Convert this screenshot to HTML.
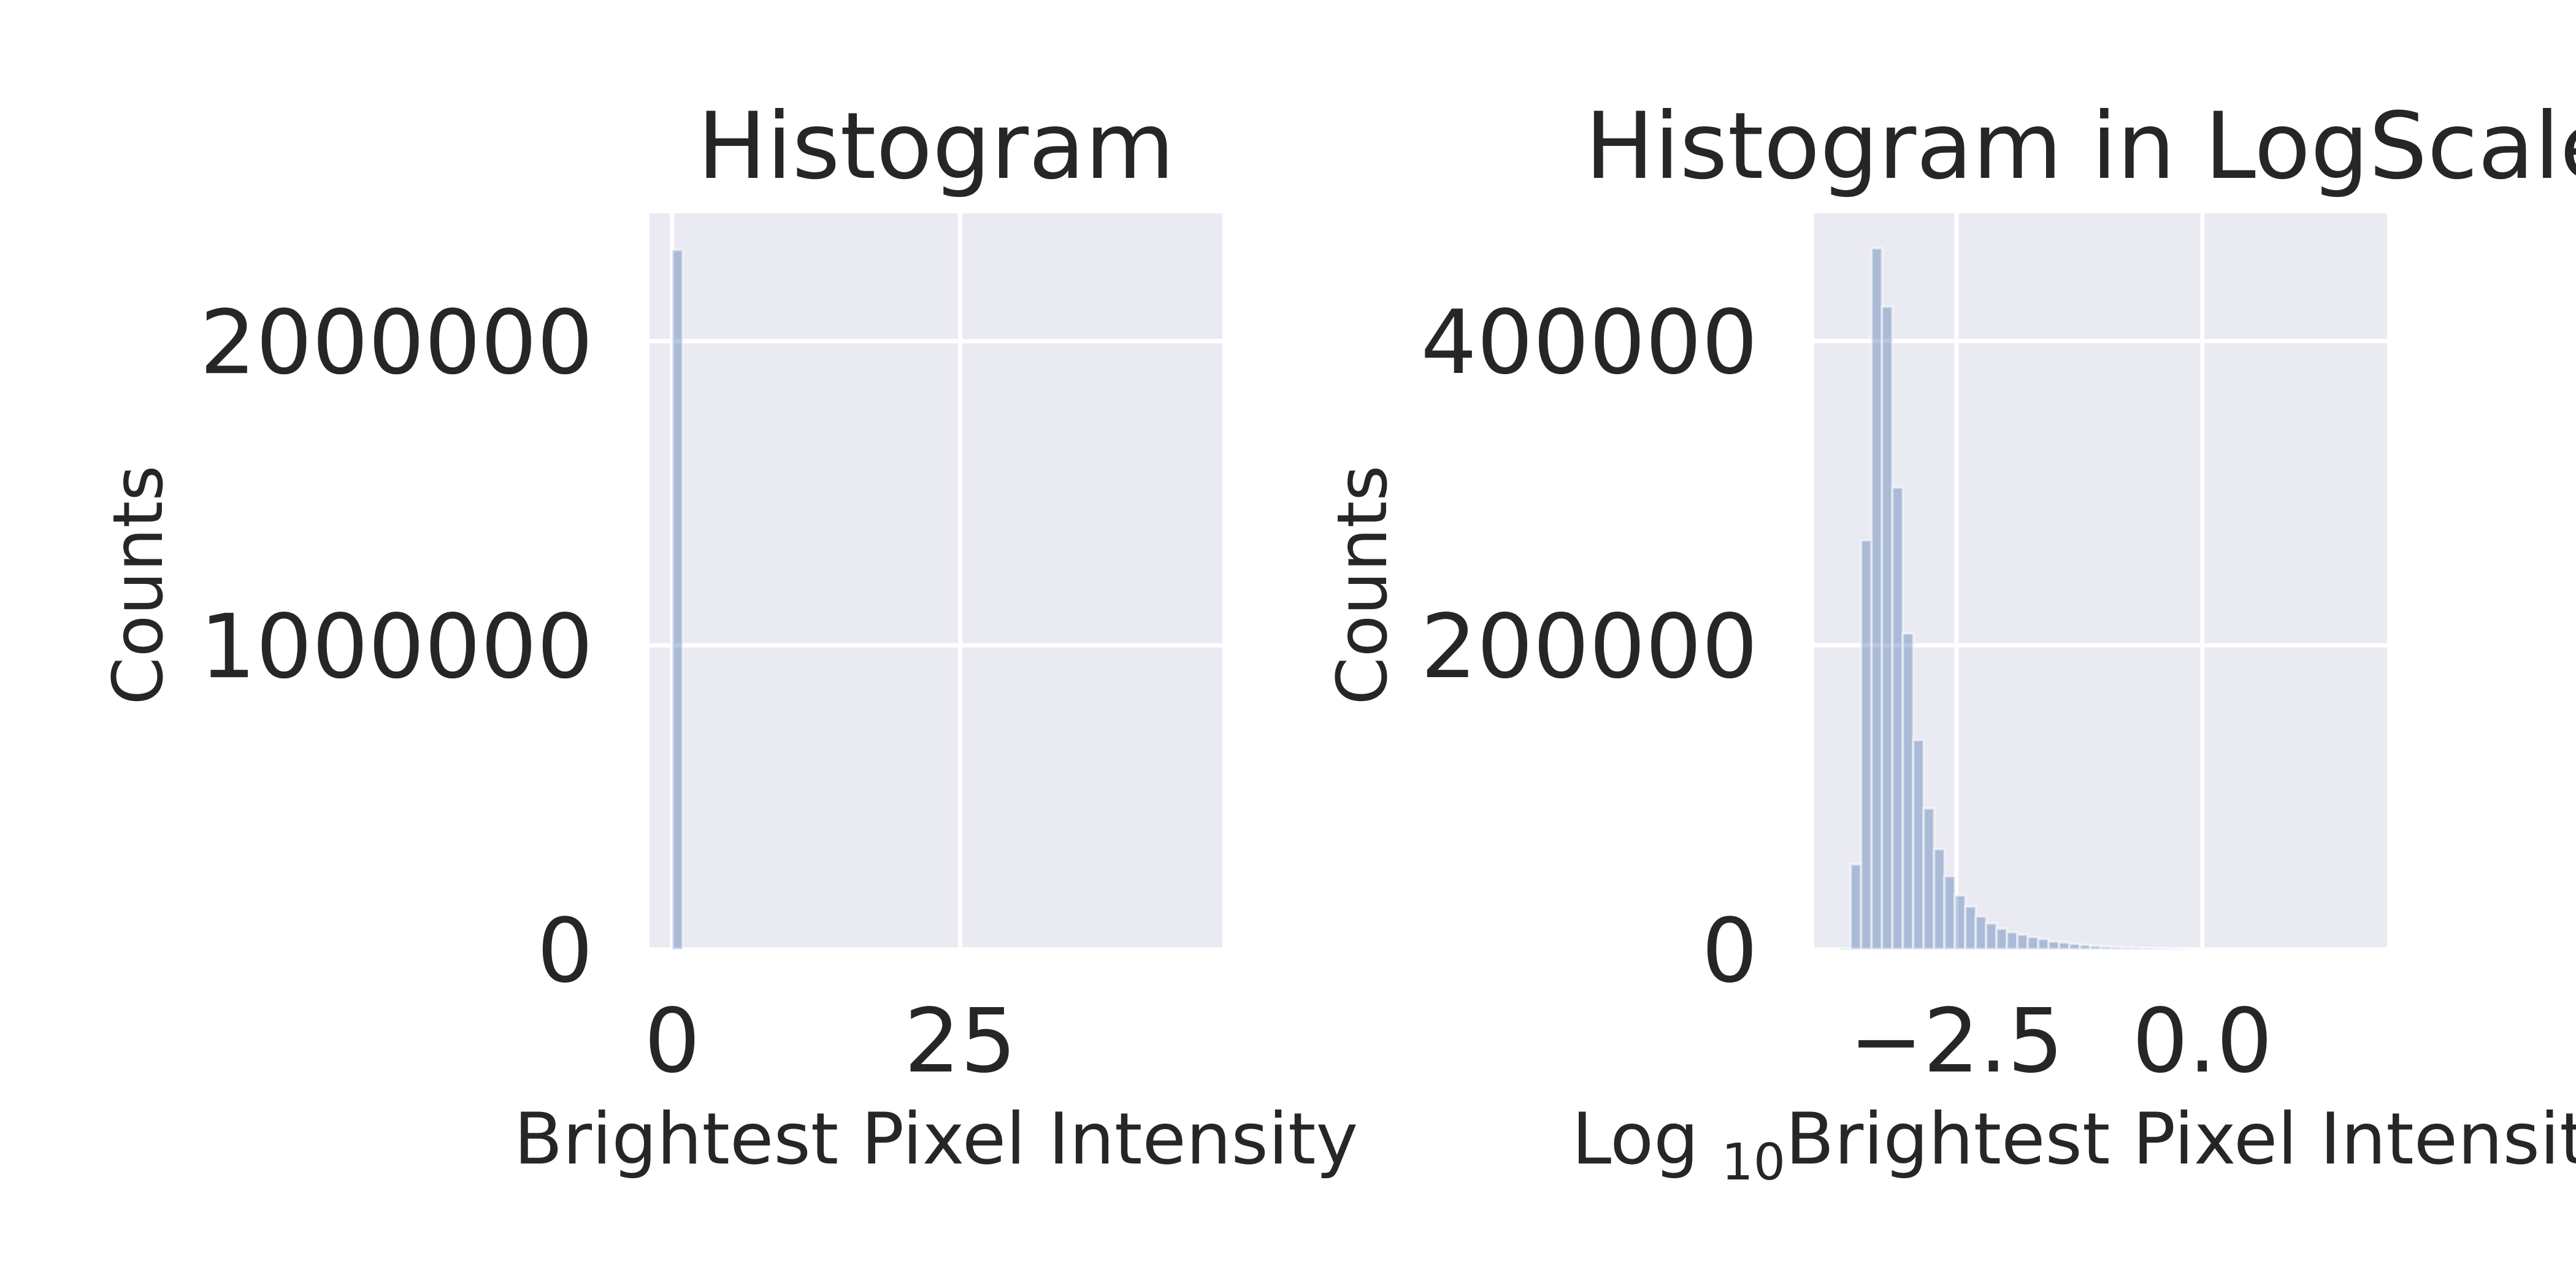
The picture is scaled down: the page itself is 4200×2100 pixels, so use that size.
<!DOCTYPE html>
<html><head><meta charset="utf-8"><style>
html,body{margin:0;padding:0;background:#fff;}
svg{display:block;font-family:"DejaVu Sans","Liberation Sans",sans-serif;fill:#262626;}
</style></head><body>
<svg id="chart" width="4200" height="2100" viewBox="0 0 4200 2100" xmlns="http://www.w3.org/2000/svg"></svg>
<script>
// Left histogram data
const leftBinStart = 0;
const leftBinEnd = 45.2;
const leftCounts = [2300000,0,0,0,0,0,0,0,0,0,0,0,0,0,0,0,0,0,0,0,0,0,0,0,0,0,0,0,0,0,0,0,0,0,0,0,0,0,0,0,0,0,0,0,0,0,0,0,0,0];
const leftXTicks = [0, 25];
const leftXTickLabels = ["0", "25"];
const leftYTicks = [0, 1000000, 2000000];
const leftYTickLabels = ["0", "1000000", "2000000"];
// Right histogram data (log10)
const rightBinStart = -3.68;
const rightBinEnd = 1.614;
const rightCounts = [600,55900,269000,461000,422600,303700,207700,137600,92700,65900,48100,35500,28100,21600,17100,13600,11300,9700,8100,6800,5200,4500,3600,2900,2300,1800,1500,1200,1000,800,600,400,300,200,150,100,80,60,40,30,20,10,0,0,0,0,0,0,0,0];
const rightXTicks = [-2.5, 0.0];
const rightXTickLabels = ["\u22122.5", "0.0"];
const rightYTicks = [0, 200000, 400000];
const rightYTickLabels = ["0", "200000", "400000"];

const NS = "http://www.w3.org/2000/svg";
const svg = document.getElementById("chart");
function mk(tag, attrs, parent) {
  const e = document.createElementNS(NS, tag);
  for (const k in attrs) e.setAttribute(k, attrs[k]);
  (parent || svg).appendChild(e);
  return e;
}
function drawPanel(cfg) {
  const g = mk("g", {});
  
  
  const L = cfg.left, R = cfg.left + 934, T = 348, B = 1548;
  const xs = v => L + (v - cfg.xmin) / (cfg.xmax - cfg.xmin) * (R - L);
  const ys = v => B - (v - 0) / (cfg.ymax - 0) * (B - T);
  const bg = mk("rect", {x: L, y: T, width: R - L, height: B - T, fill: "#eaeaf2"}, g);
  
  
  cfg.xticks.forEach((t, i) => {
    const ln = mk("line", {x1: xs(t), x2: xs(t), y1: T, y2: B, stroke: "#fff", "stroke-width": 7}, g);
    
    
    const tx = mk("text", {x: xs(t), y: 1747, "text-anchor": "middle", "font-size": 144}, g);
    tx.textContent = cfg.xlabels[i];
    
    
  });
  cfg.yticks.forEach((t, i) => {
    const ln = mk("line", {x1: L, x2: R, y1: ys(t), y2: ys(t), stroke: "#fff", "stroke-width": 7}, g);
    
    
    const tx = mk("text", {x: L - 92, y: ys(t) + 52, "text-anchor": "end", "font-size": 144}, g);
    tx.textContent = cfg.ylabels[i];
    
    
  });
  const n = cfg.counts.length, w = (cfg.b1 - cfg.b0) / n;
  cfg.counts.forEach((c, i) => {
    const x0 = xs(cfg.b0 + i * w), x1 = xs(cfg.b0 + (i + 1) * w);
    const r = mk("rect", {x: x0, y: ys(c), width: x1 - x0, height: B - ys(c), fill: "#4c72b0", "fill-opacity": 0.4, stroke: "#ffffff", "stroke-opacity": 0.5, "stroke-width": 4}, g);
    
    
  });
  const cx = (L + R) / 2;
  const title = mk("text", {x: cx, y: 290, "text-anchor": "middle", "font-size": 150}, g);
  title.textContent = cfg.title;
  
  
  const xl = mk("text", {x: cx, y: 1897, "text-anchor": "middle", "font-size": 116}, g);
  if (cfg.logLabel) {
    xl.appendChild(document.createTextNode("Log "));
    const sub = mk("tspan", {"font-size": 82, dy: 26}, xl);
    sub.textContent = "10";
    const rest = mk("tspan", {dy: -26}, xl);
    rest.textContent = "Brightest Pixel Intensity";
  } else {
    xl.textContent = "Brightest Pixel Intensity";
  }
  
  
  const yl = mk("text", {x: cfg.ylabelX, y: 954, "text-anchor": "middle", "font-size": 112, transform: `rotate(-90 ${cfg.ylabelX} 954)`}, g);
  yl.textContent = "Counts";
  
  
}
drawPanel({name: "histogram-panel", left: 1059, xmin: -1.97, xmax: 47.75, ymax: 2420000,
  b0: leftBinStart, b1: leftBinEnd, counts: leftCounts, xticks: leftXTicks, xlabels: leftXTickLabels,
  yticks: leftYTicks, ylabels: leftYTickLabels, title: "Histogram", ylabelX: 264, logLabel: false});
drawPanel({name: "log-histogram-panel", left: 2958, xmin: -3.945, xmax: 1.878, ymax: 483900,
  b0: rightBinStart, b1: rightBinEnd, counts: rightCounts, xticks: rightXTicks, xlabels: rightXTickLabels,
  yticks: rightYTicks, ylabels: rightYTickLabels, title: "Histogram in LogScale", ylabelX: 2260, logLabel: true});
</script>
</body></html>
